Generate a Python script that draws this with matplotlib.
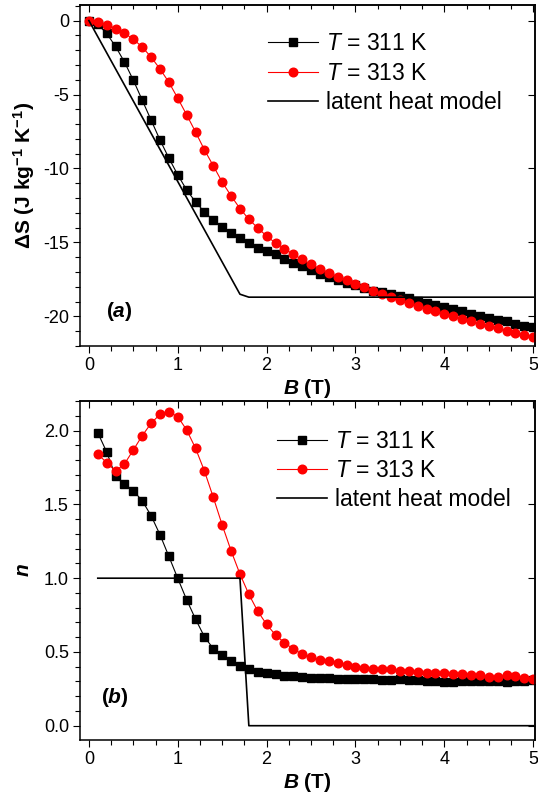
import matplotlib
matplotlib.use('Agg')
import matplotlib.pyplot as plt
from matplotlib.ticker import MultipleLocator
import numpy as np

plt.rcParams['font.family'] = ['Liberation Sans', 'DejaVu Sans']
plt.rcParams['axes.unicode_minus'] = False
plt.rcParams['mathtext.fontset'] = 'custom'
plt.rcParams['mathtext.rm'] = 'Liberation Sans'
plt.rcParams['mathtext.it'] = 'Liberation Sans:italic'
plt.rcParams['mathtext.bf'] = 'Liberation Sans:bold'
plt.rcParams['mathtext.bfit'] = 'Liberation Sans:italic:bold'

# data (a): entropy change vs field
B_a = np.round(np.arange(0, 5.01, 0.1), 1)
dS_311 = [0, -0.25, -0.87, -1.75, -2.8, -4.03, -5.38, -6.73, -8.07, -9.3, -10.43,
          -11.45, -12.26, -12.94, -13.5, -13.96, -14.36, -14.7, -15.01, -15.38, -15.6,
          -15.81, -16.15, -16.39, -16.62, -16.85, -17.11, -17.34, -17.57, -17.75, -17.91,
          -18.06, -18.25, -18.36, -18.5, -18.63, -18.77, -18.97, -19.1, -19.26, -19.38,
          -19.49, -19.65, -19.82, -19.96, -20.1, -20.23, -20.33, -20.5, -20.62, -20.73]
dS_313 = [0, -0.09, -0.27, -0.54, -0.85, -1.26, -1.79, -2.47, -3.27, -4.17, -5.25,
          -6.37, -7.53, -8.74, -9.82, -10.92, -11.85, -12.71, -13.43, -14.02, -14.57,
          -15.04, -15.42, -15.81, -16.15, -16.48, -16.78, -17.05, -17.32, -17.57, -17.82,
          -18.04, -18.25, -18.47, -18.7, -18.9, -19.1, -19.28, -19.47, -19.65, -19.82,
          -19.99, -20.16, -20.33, -20.5, -20.64, -20.8, -20.96, -21.09, -21.23, -21.36]
B_lat_a = [0, 1.7, 1.8, 5.0]
dS_lat = [0, -18.5, -18.7, -18.7]

# data (b): exponent n vs field
B_b = np.round(np.arange(0.1, 5.01, 0.1), 1)
n_311 = [1.986, 1.856, 1.693, 1.639, 1.593, 1.525, 1.424, 1.295, 1.148, 0.999,
         0.854, 0.723, 0.603, 0.522, 0.479, 0.439, 0.405, 0.387, 0.366, 0.355,
         0.348, 0.340, 0.335, 0.330, 0.325, 0.324, 0.323, 0.318, 0.318, 0.317,
         0.316, 0.316, 0.308, 0.307, 0.315, 0.311, 0.311, 0.306, 0.300, 0.299,
         0.299, 0.305, 0.305, 0.305, 0.305, 0.305, 0.297, 0.305, 0.305, 0.308]
n_313 = [1.842, 1.783, 1.727, 1.774, 1.869, 1.966, 2.050, 2.111, 2.127, 2.095,
         2.005, 1.881, 1.727, 1.548, 1.361, 1.186, 1.028, 0.891, 0.776, 0.687,
         0.615, 0.563, 0.520, 0.486, 0.464, 0.445, 0.437, 0.427, 0.409, 0.400,
         0.393, 0.384, 0.384, 0.382, 0.373, 0.371, 0.362, 0.355, 0.355, 0.357,
         0.353, 0.348, 0.344, 0.344, 0.328, 0.328, 0.344, 0.337, 0.321, 0.315]
B_lat_b = [0.1, 1.7, 1.8, 5.0]
n_lat = [1, 1, 0, 0]

labels = [r'$\mathit{T}$ = 311 K', r'$\mathit{T}$ = 313 K', 'latent heat model']

fig = plt.figure(figsize=(5.38, 7.97), dpi=100)
ax1 = fig.add_axes([0.1487, 0.5659, 0.8457, 0.4278])
ax2 = fig.add_axes([0.1487, 0.0715, 0.8457, 0.4257])


def style(ax, ymaj, ymin):
    for s in ax.spines.values():
        s.set_linewidth(1.1)
    ax.xaxis.set_major_locator(MultipleLocator(1))
    ax.xaxis.set_minor_locator(MultipleLocator(0.25))
    ax.yaxis.set_major_locator(MultipleLocator(ymaj))
    ax.yaxis.set_minor_locator(MultipleLocator(ymin))
    ax.tick_params(which='both', direction='out', labelsize=13, width=0.8, pad=3)
    ax.tick_params(which='major', length=5)
    ax.tick_params(which='minor', length=3.5)
    top = ax.secondary_xaxis('top')
    top.xaxis.set_major_locator(MultipleLocator(1))
    top.xaxis.set_minor_locator(MultipleLocator(0.25))
    top.tick_params(which='both', direction='in', labeltop=False, width=0.8)
    top.tick_params(which='major', length=5)
    top.tick_params(which='minor', length=3)
    top.spines['top'].set_linewidth(1.1)
    right = ax.secondary_yaxis('right')
    right.yaxis.set_major_locator(MultipleLocator(ymaj))
    right.yaxis.set_minor_locator(MultipleLocator(1000))
    right.tick_params(which='both', direction='in', labelright=False, width=0.8, length=5)
    right.spines['right'].set_linewidth(1.1)
    ax.set_xlim(-0.1, 5.02)
    ax.set_xlabel(r'$\mathbfit{B}$ (T)', fontsize=15, fontweight='bold', labelpad=2)


# panel (a)
ax1.plot(B_a, dS_311, '-s', color='black', lw=0.8, ms=5.3, label=labels[0])
ax1.plot(B_a, dS_313, '-o', color='red', lw=0.8, ms=6.2, label=labels[1])
ax1.plot(B_lat_a, dS_lat, '-', color='black', lw=1.2, label=labels[2])
style(ax1, 5, 1)
ax1.set_ylim(-22, 1.05)
ax1.set_ylabel(r'$\mathbf{\Delta S\ (J\ kg^{-1}\ K^{-1})}$', fontsize=15, labelpad=4)
ax1.text(0.345, -19.7, r'($\mathbfit{a}$)', fontsize=15, fontweight='bold',
         ha='center', va='center')
ax1.legend(loc='upper left', bbox_to_anchor=(0.413, 0.92), frameon=False,
           fontsize=16.5, numpoints=1, handlelength=2.2, handletextpad=0.35,
           labelspacing=0.28, borderpad=0, borderaxespad=0)

# panel (b)
ax2.plot(B_b, n_311, '-s', color='black', lw=0.8, ms=5.3, label=labels[0])
ax2.plot(B_b, n_313, '-o', color='red', lw=0.8, ms=6.2, label=labels[1])
ax2.plot(B_lat_b, n_lat, '-', color='black', lw=1.2, label=labels[2])
style(ax2, 0.5, 0.1)
ax2.set_ylim(-0.097, 2.203)
ax2.set_ylabel(r'$\mathbfit{n}$', fontsize=15, labelpad=8)
ax2.text(0.29, 0.19, r'($\mathbfit{b}$)', fontsize=15, fontweight='bold',
         ha='center', va='center')
ax2.legend(loc='upper left', bbox_to_anchor=(0.433, 0.915), frameon=False,
           fontsize=16.5, numpoints=1, handlelength=2.2, handletextpad=0.35,
           labelspacing=0.28, borderpad=0, borderaxespad=0)

fig.savefig('out.png', dpi=100)
